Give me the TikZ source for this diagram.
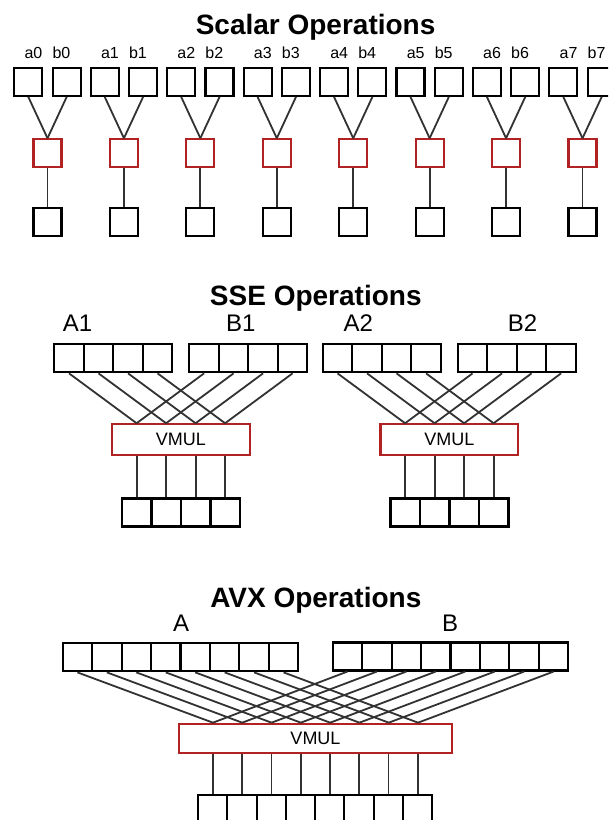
\documentclass[tikz,border=0pt]{standalone}
\usepackage{fontspec}
\setmainfont{Liberation Sans}
\usetikzlibrary{calc}
\definecolor{boxred}{RGB}{178,34,34}
\definecolor{wirecol}{RGB}{50,50,50}
\begin{document}
\begin{tikzpicture}[x=0.75pt,y=-0.75pt,
  sbox/.style={draw=black, fill=white, line width=1.6pt, minimum size=21pt, inner sep=0pt},
  rbox/.style={sbox, draw=boxred},
  cell/.style={draw=black, fill=white, line width=1.6pt, minimum width=22.1pt, minimum height=21pt, inner sep=0pt},
  vmul/.style={draw=boxred, fill=white, line width=1.6pt, inner sep=0pt, font=\fontsize{13.5}{16}\selectfont},
  wire/.style={draw=wirecol, line width=1.35pt},
  title/.style={font=\fontsize{21}{25}\selectfont\bfseries, anchor=base, inner sep=0pt},
  lab/.style={font=\fontsize{12}{14}\selectfont, anchor=base, inner sep=0pt},
  biglab/.style={font=\fontsize{18}{21}\selectfont, anchor=base, inner sep=0pt}]
\clip (0,0) rectangle (608,820);
\fill[white] (0,0) rectangle (608,820);

% ---------- Scalar ----------
\node[title] (t1) at (315.6,35) {Scalar Operations};
\foreach \i in {0,...,7}{
  \pgfmathsetmacro{\L}{13.3+76.43*\i}
  \node[sbox] (a\i) at (\L+15,81.8) {};
  \node[sbox] (b\i) at (\L+53.4,81.8) {};
  \node[rbox] (r\i) at (\L+34.2,153.3) {};
  \node[sbox] (o\i) at (\L+34.2,222) {};
  \node[lab] (la\i) at (\L+20.2,59) {a\i};
  \node[lab] (lb\i) at (\L+48.2,59) {b\i};
  \draw[wire] (a\i.south) -- (r\i.north);
  \draw[wire] (b\i.south) -- (r\i.north);
  \draw[wire] (r\i.south) -- (o\i.north);
}

% ---------- SSE ----------
\node[title] (t2) at (315.8,305) {SSE Operations};
\node[biglab] (lA1) at (77.5,331.7) {A1};
\node[biglab] (lB1) at (240.8,331.7) {B1};
\node[biglab] (lA2) at (358.3,331.7) {A2};
\node[biglab] (lB2) at (522.5,331.7) {B2};
\foreach \g/\dx in {1/0,2/268.5}{
  \node[vmul, minimum width=103.3pt, minimum height=22.8pt] (V\g) at (180.85+\dx,439.5) {VMUL};
  \foreach \j in {0,...,3}{
    \node[cell] (SA\g x\j) at (69.05+\dx+29.5*\j,358.3) {};
    \node[cell] (SB\g x\j) at (204.05+\dx+29.5*\j,358.3) {};
    \node[cell] (SO\g x\j) at (181+\dx+29.5*\j-44.25,512.5) {};
    \coordinate (SP\g x\j) at ($(V\g.north)+({(\j-1.5)*29.5},0)$);
    \draw[wire] (SA\g x\j.south) -- (SP\g x\j);
    \draw[wire] (SB\g x\j.south) -- (SP\g x\j);
    \draw[wire] (SO\g x\j.north) -- (SO\g x\j.north |- V\g.south);
  }
}

% ---------- AVX ----------
\node[title] (t3) at (315.8,607.3) {AVX Operations};
\node[biglab] (lA) at (181.2,631.7) {A};
\node[biglab] (lB) at (450,631.7) {B};
\node[vmul, minimum width=204.3pt, minimum height=22pt] (VA) at (315.5,738.4) {VMUL};
\foreach \j in {0,...,7}{
  \node[cell] (AA\j) at (77.4+29.45*\j,657.3) {};
  \node[cell] (AB\j) at (347.4+29.45*\j,656.5) {};
  \node[cell] (AO\j) at (212.9+29.25*\j,809) {};
  \coordinate (AP\j) at ($(VA.north)+({(\j-3.5)*29.3},0)$);
  \draw[wire] (AA\j.south) -- (AP\j);
  \draw[wire] (AB\j.south) -- (AP\j);
  \draw[wire] (AO\j.north) -- (AO\j.north |- VA.south);
}
\end{tikzpicture}
\end{document}
